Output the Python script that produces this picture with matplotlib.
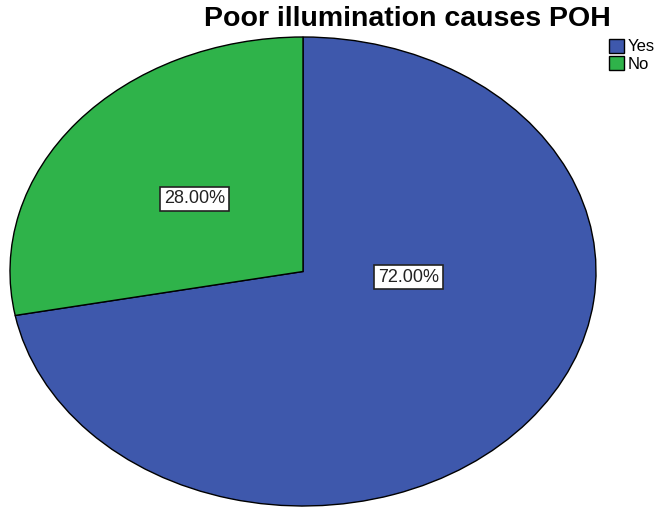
import matplotlib.pyplot as plt

categories = ["Yes", "No"]
percentages = [72.0, 28.0]
colors = ["#3e58ac", "#2fb34a"]
# label anchor points in pie units (x, y)
label_pos = [(0.36, -0.025), (-0.37, 0.31)]

plt.rcParams["font.family"] = ["Liberation Sans", "DejaVu Sans"]

fig = plt.figure(figsize=(6.64, 5.08), dpi=100)
# pie squeezed into an ellipse
ax = fig.add_axes([10 / 664, 1 - 506 / 508, 586 / 664, 469 / 508])

wedges, _ = ax.pie(percentages, colors=colors, startangle=90, counterclock=False,
                   wedgeprops=dict(edgecolor="black", linewidth=1.0))
ax.set_aspect("auto")
ax.set_xlim(-1.0, 1.0)
ax.set_ylim(-1.0, 1.0)

for pct, (x, y) in zip(percentages, label_pos):
    ax.text(x, y, f"{pct:.2f}%", ha="center", va="center", fontsize=13,
            color="#222222",
            bbox=dict(boxstyle="square,pad=0.2", facecolor="white",
                      edgecolor="#222222", linewidth=1.2))

fig.text(0.613, 0.962, "Poor illumination causes POH", ha="center", va="center",
         fontsize=20.5, fontweight="bold")

fig.legend(wedges, categories, loc="upper left", bbox_to_anchor=(0.904, 0.94),
           frameon=False, fontsize=12, handlelength=0.9, handleheight=0.9,
           handletextpad=0.25, labelspacing=0.1, borderpad=0.0)

fig.savefig("out.png", dpi=100)
